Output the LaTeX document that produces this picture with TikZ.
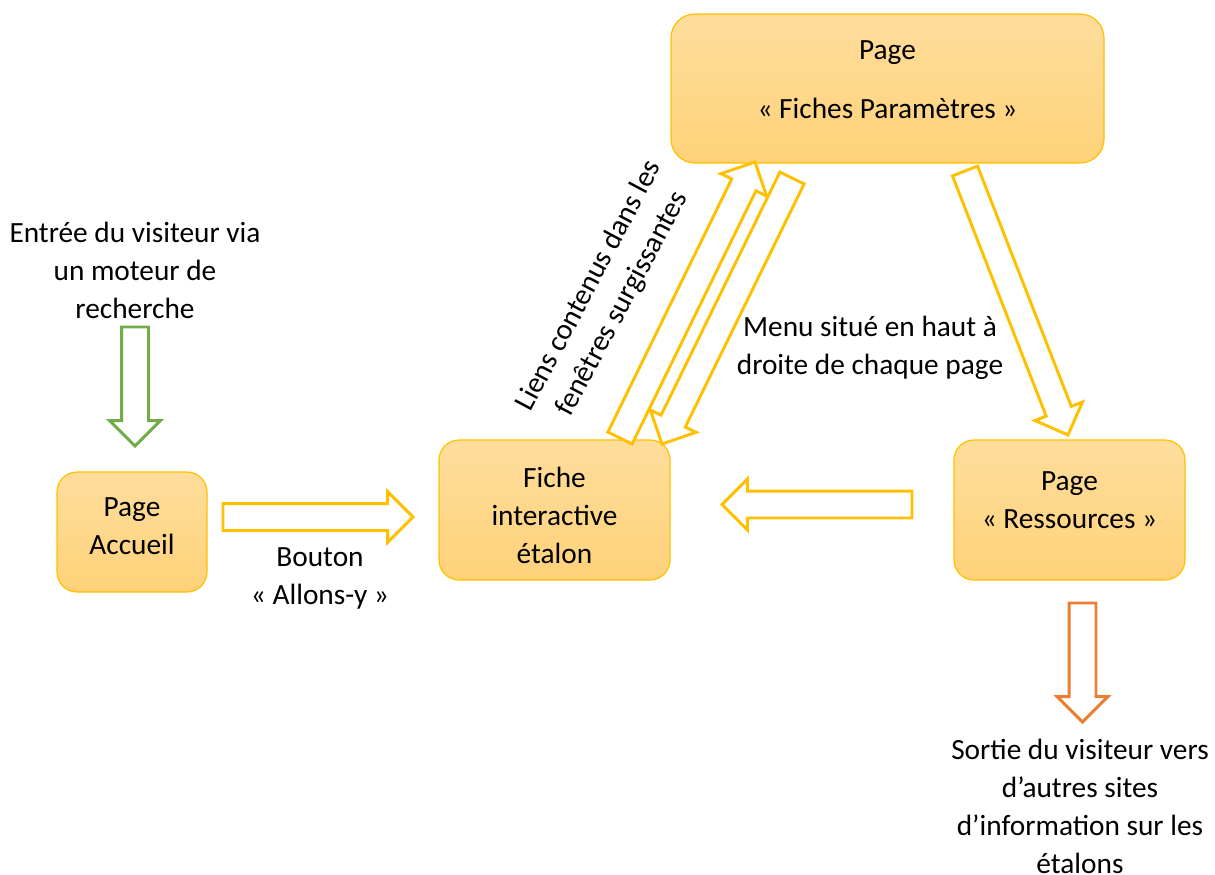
\documentclass[tikz,border=0pt]{standalone}
\usepackage{fontspec}
\setmainfont{Carlito}
\usetikzlibrary{shapes.arrows,calc}
\definecolor{boxtop}{HTML}{FEDD9C}
\definecolor{boxbot}{HTML}{FFD279}
\definecolor{boxline}{HTML}{FFC000}
\definecolor{arryellow}{HTML}{FFC000}
\definecolor{arrgreen}{HTML}{70AD47}
\definecolor{arrorange}{HTML}{ED7D31}
% flèche creuse entre deux points
\newcommand{\blockarrow}[3]{%
  \path let \p1=($(#3)-(#2)$) in
    node[hollowarrow, draw=#1, rotate={atan2(\y1,\x1)},
         minimum height={veclen(\x1,\y1)}, anchor=tail] at (#2) {};}
\begin{document}
\begin{tikzpicture}[x=0.75pt, y=-0.75pt,
    every node/.style={font=\fontsize{22}{28.5}\selectfont},
    page/.style={draw=boxline, line width=0.9pt, rounded corners=15pt,
        top color=boxtop, bottom color=boxbot, inner sep=0pt},
    hollowarrow/.style={single arrow, fill=white, line width=2.2pt,
        inner xsep=0pt, inner ysep=9pt, minimum width=36pt, outer sep=0pt,
        single arrow head extend=9pt},
    label/.style={align=center}]
    \useasboundingbox (0,0) rectangle (1215,875);
    % Pages du site
    \node[page, minimum width=112.5pt, minimum height=90pt] (accueil) at (132,532) {};
    \node[page, minimum width=173.25pt, minimum height=105pt] (fiche) at (554.5,510) {};
    \node[page, minimum width=324.75pt, minimum height=111.75pt, rounded corners=18pt] (param) at (887.5,88.5) {};
    \node[page, minimum width=173.25pt, minimum height=105pt] (ressources) at (1069.5,510) {};
    \node[label] (accueil-t) at ($(accueil)+(0,-6)$) {Page\\Accueil};
    \node[label] (fiche-t) at ($(fiche)+(0,5)$) {Fiche\\interactive\\étalon};
    \node[label] (param-t) at ($(param)+(0,-8.5)$) {Page\\[16pt]« Fiches Paramètres »};
    \node[label] (ressources-t) at ($(ressources)+(0,-10)$) {Page\\« Ressources »};
    % Textes
    \node[label] (entree) at (135,270) {Entrée du visiteur via\\un moteur de\\recherche};
    \node[label] (bouton) at (320,578) {Bouton\\« Allons-y »};
    \node[label, rotate=62] (liens) at (606,295) {Liens contenus dans les\\fenêtres surgissantes};
    \node[label] (menu) at (870,348) {Menu situé en haut à\\droite de chaque page};
    \node[label] (sortie) at (1080,806) {Sortie du visiteur vers\\d’autres sites\\d’information sur les\\étalons};
    % Extrémités des flèches
    \coordinate (entree-s) at (135,327);   \coordinate (entree-e) at (135,446);
    \coordinate (bouton-s) at (223,517);   \coordinate (bouton-e) at (413,517);
    \coordinate (retour-s) at (912,504.5); \coordinate (retour-e) at (722,504.5);
    \coordinate (sortie-s) at (1082.5,603); \coordinate (sortie-e) at (1082.5,722);
    \coordinate (menu-s) at (965,171);     \coordinate (menu-e) at (1068,435);
    \coordinate (liens-s) at (620,438);    \coordinate (liens-e) at (755,162);
    \coordinate (param-s) at (792,178);    \coordinate (param-e) at (662,444);
    % Flèches
    \blockarrow{arrgreen}{entree-s}{entree-e}
    \blockarrow{arryellow}{bouton-s}{bouton-e}
    \blockarrow{arryellow}{retour-s}{retour-e}
    \blockarrow{arrorange}{sortie-s}{sortie-e}
    \blockarrow{arryellow}{menu-s}{menu-e}
    \blockarrow{arryellow}{liens-s}{liens-e}
    \blockarrow{arryellow}{param-s}{param-e}
\end{tikzpicture}
\end{document}
